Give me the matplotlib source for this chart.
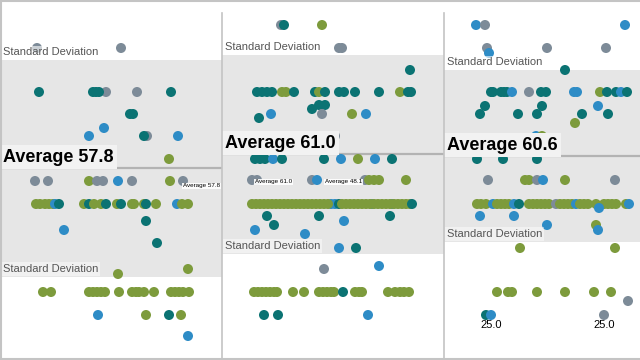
import matplotlib.pyplot as plt

plt.rcParams['font.family'] = ['Liberation Sans', 'DejaVu Sans']

# colour groups: t = teal, n = grey, b = blue, g = green
colors = {'t': '#0b7373', 'n': '#7d8b98', 'b': '#2e8cc6', 'g': '#7d9b3c'}

averages = [57.8, 61.0, 60.6]
band_top = [60, 55, 70]
band_bottom = [277, 254, 242]
avg_level = [168, 154, 156]
panel_left = [0, 222, 444]
panel_width = [222, 222, 196]

# rows of dots per panel: (row level, x positions, colour groups)
p1_rows = [
    (48, [37, 121], 'nn'),
    (92, [39, 106, 93, 96, 99, 137, 171], 'tntttnt'),
    (114, [130, 133], 'tt'),
    (128, [104], 'b'),
    (136, [89, 147, 144, 178], 'bntb'),
    (159, [169], 'g'),
    (181, [35, 48, 89, 97, 103, 118, 132, 170, 183], 'nngnnbngn'),
    (204, [36, 40, 45, 49, 53, 55, 59, 84, 89, 94, 101, 106, 117, 121, 132,
           134, 144, 146, 156, 177, 182, 188], 'gggggbtgtggtgtgggtgbgg'),
    (221, [146], 't'),
    (230, [64], 'b'),
    (243, [157], 't'),
    (269, [188], 'g'),
    (274, [118], 'g'),
    (292, [43, 51, 89, 93, 97, 101, 105, 119, 132, 136, 139, 144, 154, 171,
           175, 179, 183, 189], 'gggggggggggggggggg'),
    (315, [98, 146, 169, 181], 'bgtg'),
    (336, [188], 'b'),
]

p2_rows = [
    (25, [59, 62, 100], 'ntg'),
    (48, [117, 120], 'nn'),
    (70, [188], 't'),
    (92, [35, 40, 45, 50, 60, 64, 72, 93, 97, 103, 117, 122, 133, 157, 178,
          186, 189], 'ttttggttgtttttgtt'),
    (105, [97, 103], 'tt'),
    (109, [90], 't'),
    (114, [49, 100, 130, 144], 'bngb'),
    (118, [37], 't'),
    (136, [50, 113], 'bn'),
    (159, [33, 38, 43, 51, 60, 102, 119, 136, 153, 170], 'tttbttbgbt'),
    (180, [30, 35, 90, 95, 143, 147, 152, 157, 184], 'nnnbngggg'),
    (204, [150, 170, 109, 113, 117,
           30, 34, 38, 42, 46, 50, 54, 58, 62, 66, 70, 74, 78, 82, 86, 90, 94,
           98, 102, 106,
           120, 124, 128, 132, 136, 140, 144, 148, 152, 156, 160, 164, 168,
           172, 176, 180, 184, 188, 190],
     'bbbbt' + 'gggggggggggggggggggg' + 'gggggggggggggggggg' + 't'),
    (216, [45, 97, 168], 'ttt'),
    (221, [122], 'b'),
    (225, [52], 't'),
    (230, [33], 'b'),
    (234, [83], 'b'),
    (248, [117, 134], 'bt'),
    (266, [157], 'b'),
    (269, [102], 'n'),
    (292, [32, 36, 40, 44, 48, 52, 55, 71, 82, 97, 101, 105, 109, 112, 121,
           133, 137, 140, 166, 173, 178, 182, 187], 'ggggggggggggggtgggggggg'),
    (315, [42, 56, 146], 'ttb'),
]

p3_rows = [
    (25, [32, 41, 181], 'bnb'),
    (48, [43, 103, 162], 'nnn'),
    (53, [45], 'b'),
    (70, [121], 't'),
    (92, [47, 49, 57, 60, 63, 68, 85, 97, 102, 130, 133, 156, 163, 172, 177,
          183], 'tttttbnttbbgttbt'),
    (106, [41, 98, 154], 'ttb'),
    (114, [36, 74, 93, 138, 164], 'ttttt'),
    (123, [131], 'g'),
    (136, [92, 98], 'bg'),
    (159, [33, 59, 93], 'ttt'),
    (180, [44, 81, 85, 93, 99, 121, 171], 'nggnbgn'),
    (204, [33, 37, 42, 49, 53, 57, 61, 65, 70, 75, 85, 89, 93, 97, 101, 105,
           112, 116, 120, 124, 128, 132, 136, 140, 144, 152, 160, 164, 168,
           172, 182, 185], 'gggbggggbt' + 'gggggg' + 'n' + 'gggg' + 'b' + 'gggggggg' + 'gb'),
    (208, [155], 'b'),
    (216, [36, 70], 'bb'),
    (225, [103, 152], 'bg'),
    (230, [154], 'b'),
    (248, [76, 171], 'gg'),
    (292, [53, 64, 68, 93, 121, 150, 167], 'ggggggg'),
    (301, [184], 'n'),
    (315, [42, 47, 160], 'tbn'),
]

all_rows = [p1_rows, p2_rows, p3_rows]

# small annotations: (text, x, level, alignment)
small_labels = [
    [('Average 57.8', 220, 186, 'right')],
    [('Average 61.0', 33, 182, 'left'), ('Average 48.1', 103, 182, 'left')],
    [],
]
p3_value_labels = [('25.0', 47, 315), ('25.0', 160, 315)]

W, H = 640, 360
fig = plt.figure(figsize=(6.4, 3.6), dpi=100)

for i in range(3):
    ax = fig.add_axes([panel_left[i] / W, 0, panel_width[i] / W, 1])
    ax.set_xlim(0, panel_width[i])
    ax.set_ylim(H, 0)
    ax.axis('off')

    # standard deviation band and average line
    ax.axhspan(band_top[i], band_bottom[i], color='#e6e6e6', lw=0, zorder=0)
    ax.axhline(avg_level[i], color='#b3b3b3', lw=1.6, zorder=1)

    xs, ys, cs = [], [], []
    for level, row_x, groups in all_rows[i]:
        for x, grp in zip(row_x, groups):
            xs.append(x)
            ys.append(level)
            cs.append(colors[grp])
    ax.scatter(xs, ys, s=52, c=cs, linewidths=0, zorder=2)

    sd_style = dict(fontsize=8, color='#555555', ha='left', va='center', zorder=3)
    ax.text(3, band_top[i] - 8, 'Standard Deviation',
            bbox=dict(facecolor='white', edgecolor='none', alpha=0.6, pad=1.0), **sd_style)
    ax.text(3, band_bottom[i] - 8, 'Standard Deviation',
            bbox=dict(facecolor='white', edgecolor='none', alpha=0.45, pad=1.5), **sd_style)

    ax.text(3, avg_level[i] - 11, 'Average %.1f' % averages[i], fontsize=13,
            fontweight='bold', color='black', ha='left', va='center', zorder=3,
            bbox=dict(facecolor='#f2f2f2', edgecolor='none', pad=2.5))

    for txt, x, level, align in small_labels[i]:
        ax.text(x, level, txt, fontsize=4.5, color='black', ha=align, va='center',
                zorder=3, bbox=dict(facecolor='white', edgecolor='none', alpha=0.9, pad=0.5))

    if i == 2:
        for txt, x, level in p3_value_labels:
            ax.text(x, level + 10, txt, fontsize=8, color='black',
                    ha='center', va='center', zorder=3)

# frame lines on top
top = fig.add_axes([0, 0, 1, 1], facecolor='none')
top.set_xlim(0, W)
top.set_ylim(H, 0)
top.axis('off')
frame = '#c4c4c4'
top.plot([0, W], [1, 1], color=frame, lw=1.5)
top.plot([0, W], [358.5, 358.5], color=frame, lw=1.5)
top.plot([1, 1], [0, H], color=frame, lw=1.5)
for x in panel_left[1:]:
    top.plot([x, x], [13, 359], color=frame, lw=1.2)

fig.savefig('out.png', dpi=100)
